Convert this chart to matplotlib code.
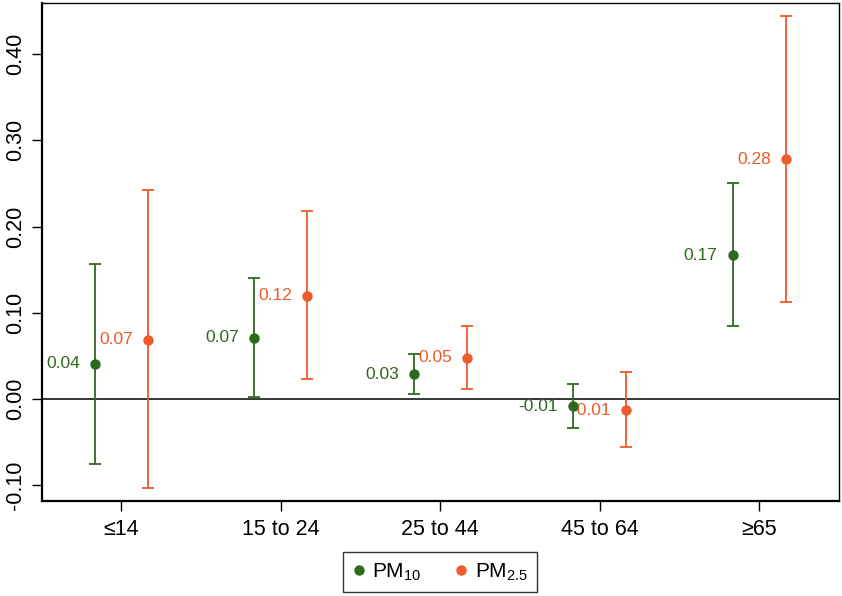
import numpy as np
import matplotlib
matplotlib.use('Agg')
from matplotlib import pyplot as plt
from matplotlib.lines import Line2D

plt.rcParams['font.family'] = ['Liberation Sans', 'DejaVu Sans']

# age groups
groups = ['≤14', '15 to 24', '25 to 44', '45 to 64', '≥65']

# PM10 estimates with CI
pm10 = [0.041, 0.071, 0.029, -0.008, 0.167]
pm10_lo = [-0.075, 0.002, 0.006, -0.033, 0.085]
pm10_hi = [0.157, 0.140, 0.052, 0.018, 0.250]

# PM2.5 estimates with CI
pm25 = [0.069, 0.120, 0.048, -0.013, 0.278]
pm25_lo = [-0.103, 0.023, 0.012, -0.055, 0.113]
pm25_hi = [0.242, 0.218, 0.085, 0.031, 0.444]

green = '#2e6a1e'
orange = '#ef5a2a'

fig = plt.figure(figsize=(8.42, 5.96), dpi=100)
ax = fig.add_axes([0.0495, 0.1594, 0.9469, 0.8356])

x = np.arange(len(groups))
off = 1 / 6.

series = [(pm10, pm10_lo, pm10_hi, green, -off), (pm25, pm25_lo, pm25_hi, orange, off)]
for vals, lo, hi, col, dx in series:
    vals = np.array(vals)
    err = [vals - np.array(lo), np.array(hi) - vals]
    ax.errorbar(x + dx, vals, yerr=err, fmt='o', color=col, ms=6.5,
                elinewidth=1.3, capsize=4.5, capthick=1.3, zorder=3)
    for xi, v in zip(x + dx, vals):
        ax.text(xi - 0.094, v, f'{v:.2f}', color=col, fontsize=12.5,
                ha='right', va='center')

ax.axhline(0, color='black', lw=1.1, zorder=2)

ax.set_xlim(-0.5, 4.5)
ax.set_ylim(-0.118, 0.459)
ax.set_xticks(x)
ax.set_xticklabels(groups, fontsize=15.5)
ax.set_yticks([-0.1, 0.0, 0.1, 0.2, 0.3, 0.4])
ax.set_yticklabels(['-0.10', '0.00', '0.10', '0.20', '0.30', '0.40'],
                   fontsize=15.5, rotation=90, va='center')
ax.tick_params(axis='both', length=7, width=1.0, pad=4)
ax.tick_params(axis='x', pad=6)

for s in ['left', 'bottom']:
    ax.spines[s].set_linewidth(1.6)
for s in ['top', 'right']:
    ax.spines[s].set_linewidth(1.0)

handles = [Line2D([], [], ls='none', marker='o', color=green, ms=6.5),
           Line2D([], [], ls='none', marker='o', color=orange, ms=6.5)]
leg = fig.legend(handles, [r'$\mathregular{PM_{10}}$', r'$\mathregular{PM_{2.5}}$'],
                 loc='lower center', bbox_to_anchor=(0.5226, 0.003), ncol=2,
                 fontsize=15, frameon=True, fancybox=False, edgecolor='black',
                 handlelength=0.6, handletextpad=0.35, columnspacing=1.6,
                 borderpad=0.45, borderaxespad=0.1)
leg.get_frame().set_linewidth(1.0)

fig.savefig('out.png', dpi=100)
